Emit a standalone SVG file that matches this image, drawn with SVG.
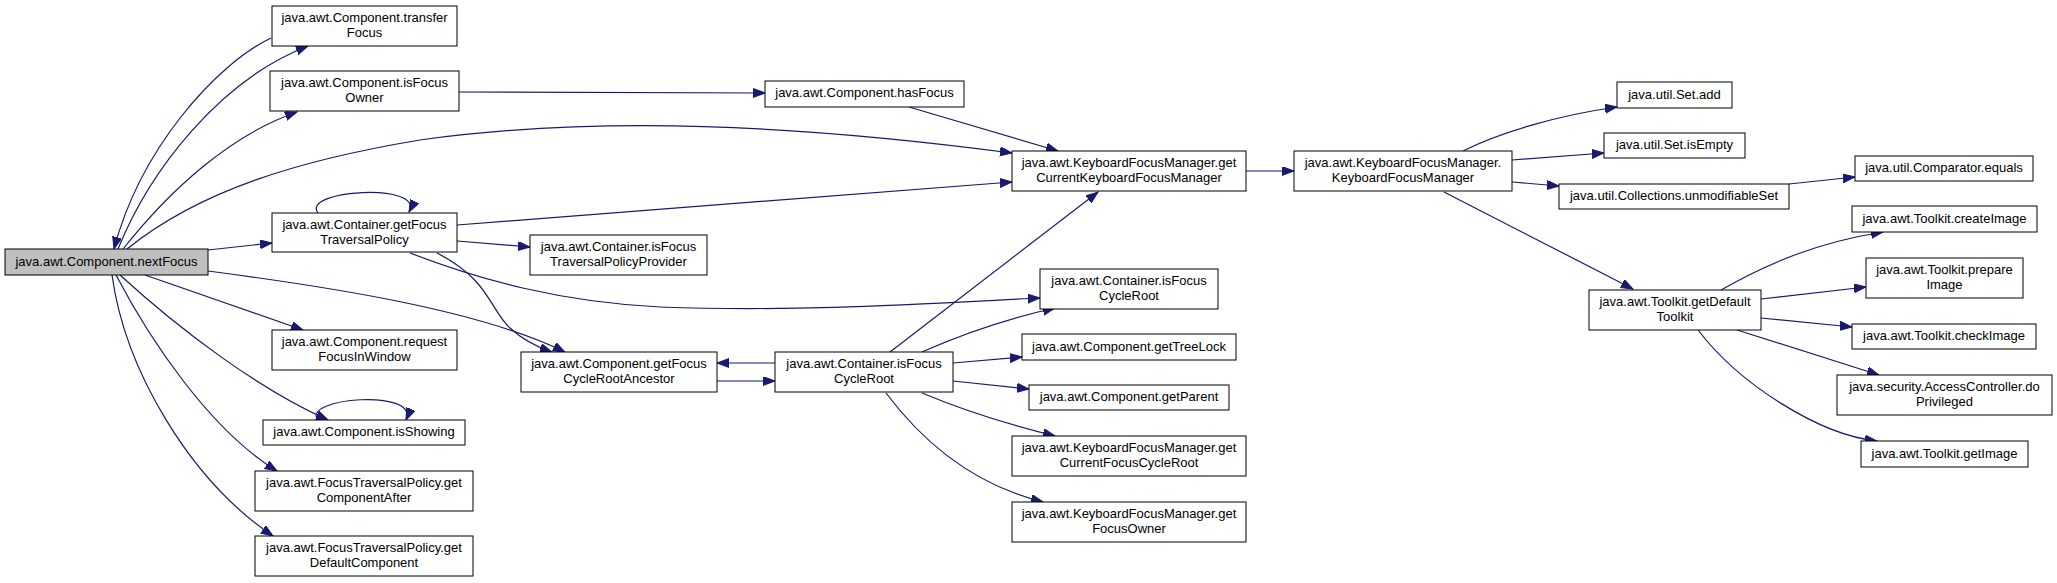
<svg xmlns="http://www.w3.org/2000/svg" width="2057" height="583" viewBox="0 0 2057 583">
<style>
.n rect{fill:#fff;stroke:#000;stroke-width:1}
.n.root rect{fill:#bfbfbf}
.n text{font-family:"Liberation Sans",Arial,sans-serif;font-size:13px;text-anchor:middle;fill:#000}
.e path{fill:none;stroke:#191970;stroke-width:1.2;marker-end:url(#ah)}
</style>
<defs>
<marker id="ah" markerUnits="userSpaceOnUse" markerWidth="13" markerHeight="10" refX="12" refY="4.5" orient="auto">
<path d="M0,0 L12,4.5 L0,9 z" fill="#191970" stroke="#191970" stroke-width="1"/>
</marker>
</defs>
<g id="edges" class="e">
<path d="M271,38 C215,65 140,150 114,249"/>
<path d="M118,249 C150,170 220,80 308,46"/>
<path d="M123,249 C170,190 230,135 297,112"/>
<path d="M127,249 C200,190 300,160 420,140 C600,115 800,125 1012,153"/>
<path d="M208,250 L272,243"/>
<path d="M208,271 C330,287 480,310 565,352"/>
<path d="M145,275 L303,330"/>
<path d="M120,275 C180,330 260,390 328,420"/>
<path d="M116,275 C150,340 210,430 277,471"/>
<path d="M112,275 C125,370 190,480 273,536"/>
<path d="M318,420 C300,398 420,388 406,420"/>
<path d="M318,213 C300,190 425,182 409,212"/>
<path d="M457,225 L1012,182"/>
<path d="M457,241 L530,247"/>
<path d="M410,253 C480,280 560,302 660,307 C800,312 920,304 1040,298"/>
<path d="M437,253 C490,280 490,310 510,328 C525,342 540,348 552,352"/>
<path d="M717,381 L775,381"/>
<path d="M775,363 L717,363"/>
<path d="M890,352 L1098,192"/>
<path d="M922,352 C960,335 1010,318 1055,308"/>
<path d="M953,363 L1022,357"/>
<path d="M953,381 L1029,389"/>
<path d="M922,393 C970,413 1010,425 1055,436"/>
<path d="M886,393 C925,445 975,485 1043,502"/>
<path d="M909,107 L1058,151"/>
<path d="M459,92 L765,93"/>
<path d="M1246,171 L1294,171"/>
<path d="M1463,151 C1500,132 1560,115 1617,107"/>
<path d="M1512,160 L1604,153"/>
<path d="M1512,182 L1559,186"/>
<path d="M1444,192 L1633,289"/>
<path d="M1789,184 L1855,177"/>
<path d="M1721,290 C1770,262 1820,242 1883,232"/>
<path d="M1761,299 L1866,287"/>
<path d="M1761,318 L1852,327"/>
<path d="M1737,330 L1879,375"/>
<path d="M1698,330 C1740,385 1820,435 1877,441"/>
</g>
<g id="nextFocus" class="n root"><rect x="5" y="249" width="203" height="26"/><text x="106.5" y="266">java.awt.Component.nextFocus</text></g>
<g id="transferFocus" class="n"><rect x="272" y="6" width="185" height="40"/><text x="364.5" y="22">java.awt.Component.transfer</text><text x="364.5" y="37">Focus</text></g>
<g id="isFocusOwner" class="n"><rect x="270" y="71" width="189" height="40"/><text x="364.5" y="87">java.awt.Component.isFocus</text><text x="364.5" y="102">Owner</text></g>
<g id="getFocusTraversalPolicy" class="n"><rect x="272" y="213" width="185" height="39"/><text x="364.5" y="229">java.awt.Container.getFocus</text><text x="364.5" y="244">TraversalPolicy</text></g>
<g id="requestFocusInWindow" class="n"><rect x="272" y="330" width="185" height="40"/><text x="364.5" y="346">java.awt.Component.request</text><text x="364.5" y="361">FocusInWindow</text></g>
<g id="isShowing" class="n"><rect x="263" y="420" width="202" height="25"/><text x="364" y="436">java.awt.Component.isShowing</text></g>
<g id="getComponentAfter" class="n"><rect x="255" y="471" width="218" height="40"/><text x="364" y="487">java.awt.FocusTraversalPolicy.get</text><text x="364" y="502">ComponentAfter</text></g>
<g id="getDefaultComponent" class="n"><rect x="255" y="536" width="218" height="40"/><text x="364" y="552">java.awt.FocusTraversalPolicy.get</text><text x="364" y="567">DefaultComponent</text></g>
<g id="hasFocus" class="n"><rect x="765" y="81" width="199" height="26"/><text x="864.5" y="97">java.awt.Component.hasFocus</text></g>
<g id="getCurrentKeyboardFocusManager" class="n"><rect x="1012" y="151" width="234" height="40"/><text x="1129" y="167">java.awt.KeyboardFocusManager.get</text><text x="1129" y="182">CurrentKeyboardFocusManager</text></g>
<g id="isFocusTraversalPolicyProvider" class="n"><rect x="530" y="235" width="177" height="40"/><text x="618.5" y="251">java.awt.Container.isFocus</text><text x="618.5" y="266">TraversalPolicyProvider</text></g>
<g id="isFocusCycleRoot2" class="n"><rect x="1040" y="269" width="178" height="40"/><text x="1129" y="285">java.awt.Container.isFocus</text><text x="1129" y="300">CycleRoot</text></g>
<g id="getFocusCycleRootAncestor" class="n"><rect x="521" y="352" width="196" height="40"/><text x="619" y="368">java.awt.Component.getFocus</text><text x="619" y="383">CycleRootAncestor</text></g>
<g id="isFocusCycleRoot" class="n"><rect x="775" y="352" width="178" height="40"/><text x="864" y="368">java.awt.Container.isFocus</text><text x="864" y="383">CycleRoot</text></g>
<g id="getTreeLock" class="n"><rect x="1022" y="334" width="214" height="26"/><text x="1129" y="351">java.awt.Component.getTreeLock</text></g>
<g id="getParent" class="n"><rect x="1029" y="385" width="200" height="25"/><text x="1129" y="401">java.awt.Component.getParent</text></g>
<g id="getCurrentFocusCycleRoot" class="n"><rect x="1012" y="436" width="234" height="40"/><text x="1129" y="452">java.awt.KeyboardFocusManager.get</text><text x="1129" y="467">CurrentFocusCycleRoot</text></g>
<g id="getFocusOwner" class="n"><rect x="1012" y="502" width="234" height="40"/><text x="1129" y="518">java.awt.KeyboardFocusManager.get</text><text x="1129" y="533">FocusOwner</text></g>
<g id="KeyboardFocusManager" class="n"><rect x="1294" y="151" width="218" height="40"/><text x="1403" y="167">java.awt.KeyboardFocusManager.</text><text x="1403" y="182">KeyboardFocusManager</text></g>
<g id="SetAdd" class="n"><rect x="1617" y="82" width="115" height="26"/><text x="1674.5" y="99">java.util.Set.add</text></g>
<g id="SetIsEmpty" class="n"><rect x="1604" y="133" width="141" height="25"/><text x="1674.5" y="149">java.util.Set.isEmpty</text></g>
<g id="unmodifiableSet" class="n"><rect x="1559" y="184" width="230" height="25"/><text x="1674" y="200">java.util.Collections.unmodifiableSet</text></g>
<g id="ComparatorEquals" class="n"><rect x="1855" y="156" width="178" height="25"/><text x="1944" y="172">java.util.Comparator.equals</text></g>
<g id="getDefaultToolkit" class="n"><rect x="1589" y="290" width="172" height="40"/><text x="1675" y="306">java.awt.Toolkit.getDefault</text><text x="1675" y="321">Toolkit</text></g>
<g id="createImage" class="n"><rect x="1852" y="206" width="185" height="26"/><text x="1944.5" y="223">java.awt.Toolkit.createImage</text></g>
<g id="prepareImage" class="n"><rect x="1866" y="258" width="157" height="40"/><text x="1944.5" y="274">java.awt.Toolkit.prepare</text><text x="1944.5" y="289">Image</text></g>
<g id="checkImage" class="n"><rect x="1852" y="324" width="184" height="25"/><text x="1944" y="340">java.awt.Toolkit.checkImage</text></g>
<g id="doPrivileged" class="n"><rect x="1837" y="375" width="215" height="40"/><text x="1944.5" y="391">java.security.AccessController.do</text><text x="1944.5" y="406">Privileged</text></g>
<g id="getImage" class="n"><rect x="1861" y="441" width="167" height="26"/><text x="1944.5" y="458">java.awt.Toolkit.getImage</text></g>
</svg>
